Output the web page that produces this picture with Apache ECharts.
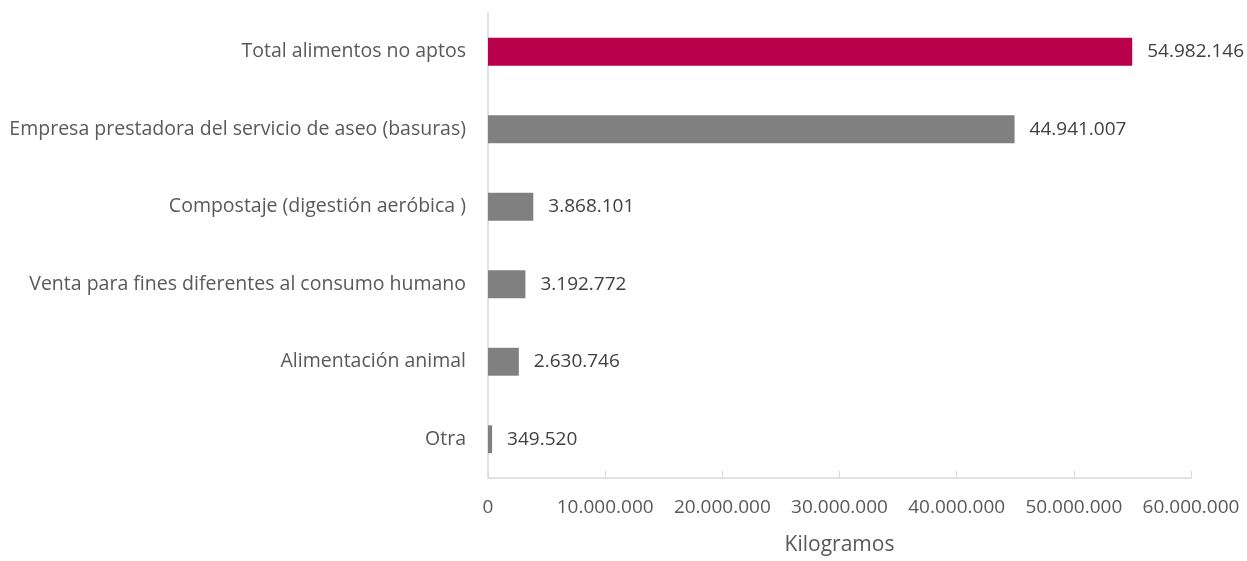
<!DOCTYPE html>
<html>
<head>
<meta charset="utf-8">
<script src="https://cdn.jsdelivr.net/npm/echarts@6/dist/echarts.min.js"></script>
<style>
  html, body { margin: 0; padding: 0; background: #ffffff; }
  #chart { width: 1247px; height: 561px; }
</style>
</head>
<body>
<div id="chart"></div>
<script>
  // categorias (de arriba hacia abajo)
  var categorias = [
    'Total alimentos no aptos',
    'Empresa prestadora del servicio de aseo (basuras)',
    'Compostaje (digestión aeróbica )',
    'Venta para fines diferentes al consumo humano',
    'Alimentación animal',
    'Otra'
  ];
  var kilogramos = [54982146, 44941007, 3868101, 3192772, 2630746, 349520];
  var colores = ['#B8004B', '#808080', '#808080', '#808080', '#808080', '#808080'];
  var ejeMax = 60000000;
  var ejeIntervalo = 10000000;

  // formato con punto de miles
  function miles(v) {
    return String(Math.round(v)).replace(/\B(?=(\d{3})+(?!\d))/g, '.');
  }

  var fuente = '"Open Sans", "Noto Sans", sans-serif';
  var chart = echarts.init(document.getElementById('chart'));

  var option = {
    animation: false,
    grid: {
      left: 488,
      right: 56,
      top: 13,
      bottom: 79
    },
    xAxis: {
      type: 'value',
      min: 0,
      max: ejeMax,
      interval: ejeIntervalo,
      name: 'Kilogramos',
      nameLocation: 'middle',
      nameGap: 57,
      nameTextStyle: {
        color: '#595959',
        fontFamily: fuente,
        fontSize: 21
      },
      axisLine: { show: true, lineStyle: { color: '#d9d9d9', width: 1.5 } },
      axisTick: { show: true, inside: true, length: 7, lineStyle: { color: '#d9d9d9' } },
      splitLine: { show: false },
      axisLabel: {
        color: '#595959',
        fontFamily: fuente,
        fontSize: 19,
        margin: 20,
        formatter: function (v) { return miles(v); }
      }
    },
    yAxis: {
      type: 'category',
      inverse: true,
      data: categorias,
      axisLine: { show: true, lineStyle: { color: '#d9d9d9', width: 1.5 } },
      axisTick: { show: false },
      axisLabel: {
        color: '#595959',
        fontFamily: fuente,
        fontSize: 19.5,
        margin: 22
      }
    },
    series: [{
      type: 'bar',
      barCategoryGap: '64%',
      data: kilogramos.map(function (v, i) {
        return { value: v, itemStyle: { color: colores[i] } };
      }),
      label: {
        show: true,
        position: 'right',
        distance: 15,
        color: '#404040',
        fontFamily: fuente,
        fontSize: 19,
        formatter: function (p) { return miles(p.value); }
      }
    }]
  };

  chart.setOption(option);
</script>
</body>
</html>
